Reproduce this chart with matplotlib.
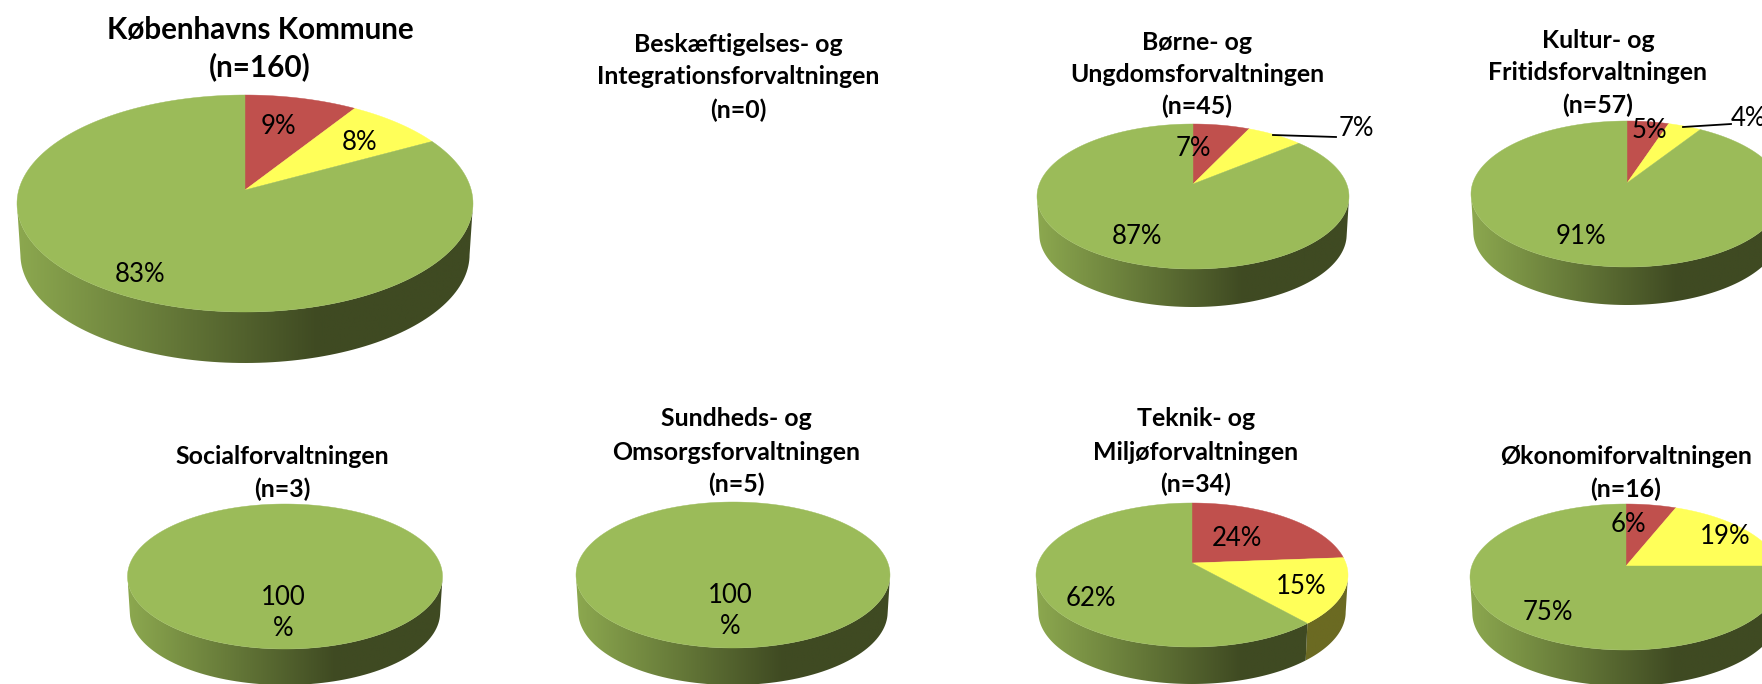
import numpy as np
import matplotlib
matplotlib.use("Agg")
import matplotlib.pyplot as plt
from matplotlib.colors import LinearSegmentedColormap
from matplotlib.patches import Polygon

plt.rcParams["font.family"] = ["Lato", "DejaVu Sans"]

titles = [
    ["Københavns Kommune", "(n=160)"],
    ["Beskæftigelses- og", "Integrationsforvaltningen", "(n=0)"],
    ["Børne- og", "Ungdomsforvaltningen", "(n=45)"],
    ["Kultur- og", "Fritidsforvaltningen", "(n=57)"],
    ["Socialforvaltningen", "(n=3)"],
    ["Sundheds- og", "Omsorgsforvaltningen", "(n=5)"],
    ["Teknik- og", "Miljøforvaltningen", "(n=34)"],
    ["Økonomiforvaltningen", "(n=16)"],
]
# red, yellow, green
kommune = [9, 8, 83]
beskaeftigelse = [0, 0, 0]
boerne = [7, 7, 87]
kultur = [5, 4, 91]
social = [0, 0, 100]
sundhed = [0, 0, 100]
teknik = [24, 15, 62]
oekonomi = [6, 19, 75]
all_values = [kommune, beskaeftigelse, boerne, kultur, social, sundhed, teknik, oekonomi]

# layout in pixels: apex x, apex y, half width, above apex, below apex, wall depth
geom = [
    (245, 190, 228, 95, 122, 51),
    None,
    (1193, 184, 156, 60, 85, 38),
    (1627, 183, 156, 62, 84, 38),
    (285, 564, 157.5, 60, 85, 36),
    (733, 562, 157, 60, 86, 37),
    (1192, 563, 156, 60, 84, 37),
    (1626, 566, 156, 62, 84, 36),
]
title_x = [260, 738, 1197, 1598, 282, 736, 1196, 1626]
title_y = [[30, 67], [45, 77, 110], [42, 74, 106], [40, 72, 105],
           [456, 489], [419, 452, 484], [419, 453, 484], [456, 489]]
title_size = [21.3, 17.9, 17.9, 17.9, 17.9, 17.9, 17.9, 17.9]
label_pos = [
    [(278, 126), (360, 143), (140, 275)],
    [],
    [(1193, 148), (1356, 129), (1137, 237)],
    [(1649, 131), (1748, 118), (1581, 236)],
    [None, None, (283, 613)],
    [None, None, (730, 611)],
    [(1237, 538), (1301, 587), (1091, 598)],
    [(1628, 525), (1725, 536), (1548, 613)],
]
leaders = [((1273, 135), (1336, 137)), ((1683, 127), (1731, 124))]

face_cols = ["#C0504D", "#FFFF59", "#9BBB59"]
wall_cmaps = [
    LinearSegmentedColormap.from_list("r", [(0, "#8c3a38"), (0.66, "#5a2220"), (1, "#5a2220")]),
    LinearSegmentedColormap.from_list("y", [(0, "#a0a040"), (0.66, "#6b6a22"), (1, "#6b6a22")]),
    LinearSegmentedColormap.from_list("g", [(0, "#8ca84f"), (0.66, "#3f4a22"), (1, "#3f4a22")]),
]


def project(t, g):
    ax_, ay, hw, up, down, depth = g
    k = (down - up) / (down + up)
    u, v = np.sin(t), np.cos(t)
    w = 1 + k * v
    a = up * (1 + k)
    b = hw * np.sqrt(1 - k * k)
    return u * b / w, -v * a / w, v, k


def draw_pie(ax, values, g):
    ax_, ay, hw, up, down, depth = g
    total = sum(values)
    start = 0.0
    for val, col, cmap in zip(values, face_cols, wall_cmaps):
        if val == 0:
            continue
        stop = start + val / total
        t = np.linspace(start, stop, 200) * 2 * np.pi
        x, y, v, k = project(t, g)
        front = v < -k
        if front.any():
            tx, ty = ax_ + x[front], ay + y[front]
            bx, by = ax_ + x[front] * 0.985, ay + y[front] + depth
            wall = Polygon(np.r_[np.c_[tx, ty], np.c_[bx, by][::-1]], closed=True,
                           transform=ax.transData, fc="none", ec="none")
            ax.add_patch(wall)
            grad = np.linspace(0, 1, 256)[None, :]
            im = ax.imshow(grad, cmap=cmap, aspect="auto", zorder=2,
                           extent=(ax_ - hw, ax_ + hw, ay + down + depth, ay - up))
            im.set_clip_path(wall)
        if val == total:
            pts = np.c_[ax_ + x, ay + y]
        else:
            pts = np.r_[[[ax_, ay]], np.c_[ax_ + x, ay + y]]
        ax.add_patch(Polygon(pts, closed=True, fc=col, ec=col, lw=0.3, zorder=3))
        start = stop


fig = plt.figure(figsize=(17.62, 6.84), dpi=100)
ax = fig.add_axes([0, 0, 1, 1])

for i, values in enumerate(all_values):
    if geom[i] is not None:
        draw_pie(ax, values, geom[i])
    for line, yy in zip(titles[i], title_y[i]):
        ax.text(title_x[i], yy, line, ha="center", va="center", fontweight="bold",
                fontsize=title_size[i], color="black", zorder=5)
    for val, pos in zip(values, label_pos[i]):
        if pos is None:
            continue
        text = "100\n%" if val == 100 else f"{val}%"
        ax.text(pos[0], pos[1], text, ha="center", va="center", fontsize=18.5,
                color="black", zorder=5, linespacing=1.3)

for p0, p1 in leaders:
    ax.plot([p0[0], p1[0]], [p0[1], p1[1]], color="black", lw=1.3, zorder=4)

ax.set_xlim(0, 1762)
ax.set_ylim(684, 0)
ax.axis("off")
fig.savefig("out.png", dpi=100, facecolor="white")
